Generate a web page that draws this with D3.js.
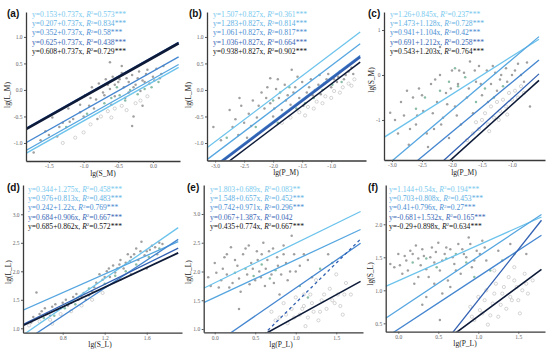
<!DOCTYPE html>
<html>
<head>
<meta charset="utf-8">
<script src="https://cdn.jsdelivr.net/npm/d3@7"></script>
<style>
  body { margin: 0; background: #fff; }
  svg { display: block; }
</style>
</head>
<body>
<svg id="chart" width="550" height="351"></svg>
<script>
// regression lines: intercepts, slopes, R2 labels (rows 1..5)
var aInt = [0.153, 0.207, 0.352, 0.625, 0.608];
var aSlope = [0.737, 0.737, 0.737, 0.737, 0.737];
var aR2 = ["0.573***", "0.834***", "0.58***", "0.438***", "0.729***"];

var bInt = [1.507, 1.283, 1.061, 1.036, 0.938];
var bSlope = [0.827, 0.827, 0.827, 0.827, 0.827];
var bR2 = ["0.361***", "0.814***", "0.817***", "0.664***", "0.902***"];

var cInt = [1.26, 1.473, 0.941, 0.691, 0.543];
var cSlope = [0.845, 1.128, 1.104, 1.212, 1.203];
var cR2 = ["0.237***", "0.728***", "0.42***", "0.258***", "0.764***"];

var dInt = [0.344, 0.976, 0.242, 0.684, 0.685];
var dSlope = [1.275, 0.813, 1.22, 0.906, 0.862];
var dR2 = ["0.458***", "0.483***", "0.769***", "0.667***", "0.572***"];

var eInt = [1.803, 1.548, 0.742, 0.067, 0.435];
var eSlope = [0.689, 0.657, 0.971, 1.387, 0.774];
var eR2 = ["0.083**", "0.452***", "0.296***", "0.042", "0.667***"];

var fInt = [1.144, 0.703, 0.41, -0.681, -0.29];
var fSlope = [0.54, 0.808, 0.796, 1.532, 0.898];
var fR2 = ["0.194***", "0.453***", "0.27***", "0.165***", "0.634***"];

// scatter points: filled grey, greenish, open circles
var aGray = [[-1.72,-1.18],[-1.62,-0.95],[-1.55,-0.78],[-1.45,-0.52],[-1.38,-0.88],[-1.3,-0.62],[-1.22,-0.35],[-1.15,-0.55],[-1.1,-0.2],[-1.05,-0.42],[-0.98,-0.1],[-0.92,-0.3],[-0.88,0.05],[-0.82,-0.18],[-0.78,0.12],[-0.72,-0.05],[-0.68,0.2],[-0.62,0.02],[-0.58,0.25],[-0.55,-0.12],[-0.5,0.15],[-0.45,0.32],[-0.42,0.05],[-0.38,0.22],[-0.35,-0.05],[-0.3,0.28],[-0.25,0.1],[-0.2,0.35],[-0.15,0.18],[-0.1,0.3],[-0.05,0.12],[0.0,0.25],[0.05,0.4],[0.12,0.3],[-0.62,0.52],[-0.3,-0.68],[-0.28,-0.5],
  [-1.5,-0.85],[-1.35,-0.7],[-1.2,-0.6],[-1.0,-0.5],[-0.85,-0.35],[-0.8,-0.55],[-0.7,-0.1],[-0.65,0.1],[-0.55,0.1],[-0.48,0.2],[-0.4,-0.15],[-0.35,0.15],[-0.28,0.05],[-0.22,0.22],[-0.18,-0.02],[-0.12,0.15],[-0.08,0.38],[0.02,0.18],[0.1,0.22],[0.15,0.45],[-0.6,-0.28],[-0.9,-0.15],[-1.05,-0.28],[-0.15,-0.3],[-0.45,0.45]];
var aGreen = [[-1.25,-0.7],[-0.95,-0.45],[-0.7,-0.25],[-0.6,-0.15],[-0.48,-0.1],[-0.4,-0.2],[-0.33,0.0],[-0.22,-0.08],[-0.12,0.02],[-0.02,0.05],[0.08,0.15],[-0.52,0.05]];
var aOpen = [[-1.12,-0.9],[-0.9,-0.65],[-0.75,-0.5],[-0.65,-0.4],[-0.55,-0.35],[-0.45,-0.3],[-0.38,-0.38],[-0.18,-0.2],[-0.08,-0.12],[-1.0,-0.8],[-0.25,-0.25],[-0.6,-0.52],[-1.3,-1.0]];

var bGray = [[-3.03,-0.7],[-2.75,-0.38],[-2.65,-0.55],[-2.55,-0.3],[-2.5,-0.62],[-2.42,-0.45],[-2.35,-0.2],[-2.28,-0.52],[-2.2,-0.05],[-2.15,-0.35],[-2.1,0.05],[-2.05,-0.25],[-2.0,-0.5],[-1.95,0.02],[-1.9,-0.15],[-1.85,-0.38],[-1.8,0.1],[-1.75,-0.1],[-1.7,-0.28],[-1.62,0.05],[-1.55,-0.15],[-1.5,0.15],[-1.42,-0.05],[-1.35,0.2],[-1.28,0.0],[-1.2,0.28],[-1.12,0.12],[-1.05,0.3],[-0.95,0.2],[-0.85,0.35],[-0.75,0.28],[-0.65,0.42],[-2.6,-0.85],[-2.45,-0.9],
  [-2.9,-0.95],[-2.7,-0.7],[-2.58,-0.15],[-2.38,-0.68],[-2.25,-0.3],[-2.12,-0.15],[-1.98,-0.35],[-1.92,0.2],[-1.78,-0.2],[-1.65,-0.05],[-1.58,0.25],[-1.48,-0.3],[-1.38,0.05],[-1.32,-0.1],[-1.22,0.1],[-1.18,-0.08],[-1.08,0.2],[-1.0,0.05],[-0.9,0.15],[-0.88,0.25],[-0.78,0.2],[-0.7,0.35],[-0.62,0.3],[-2.05,0.22],[-1.68,0.38]];
var bGreen = [[-2.8,-0.9],[-2.3,-0.7],[-2.0,-0.2],[-1.88,-0.05],[-1.72,0.05],[-1.6,-0.35],[-1.45,-0.25],[-1.3,-0.15],[-1.15,0.0],[-0.98,0.1],[-0.82,0.15],[-1.92,-0.62]];
var bOpen = [[-1.85,-0.62],[-1.7,-0.52],[-1.55,-0.42],[-1.4,-0.32],[-1.25,-0.22],[-1.1,-0.12],[-0.95,-0.02],[-0.8,0.05],[-0.7,0.12],[-0.6,0.2],[-1.45,-0.48],[-1.0,-0.15],[-1.3,-0.35],[-1.15,-0.25],[-0.85,-0.05],[-0.65,0.08]];

var cGray = [[-3.03,-0.84],[-2.9,-1.3],[-2.8,-0.9],[-2.72,-1.55],[-2.65,-0.5],[-2.6,-1.1],[-2.55,-0.3],[-2.48,-0.8],[-2.4,-1.6],[-2.35,-0.2],[-2.3,-1.2],[-2.25,-0.6],[-2.2,0.0],[-2.15,-0.95],[-2.1,-0.4],[-2.05,-1.4],[-2.0,0.1],[-1.95,-0.7],[-1.9,-0.2],[-1.85,-1.1],[-1.8,0.05],[-1.75,-0.5],[-1.7,0.3],[-1.65,-0.85],[-1.6,-0.15],[-1.55,0.2],[-1.5,-0.45],[-1.42,0.1],[-1.35,-0.2],[-1.28,0.05],[-1.2,-0.1],[-1.1,0.15],[-1.0,0.0],[-0.9,0.25],[-0.75,0.28],[-0.7,-0.7],[-2.2,0.62],
  [-2.95,-1.0],[-2.85,-0.6],[-2.7,-1.2],[-2.58,-0.9],[-2.5,-0.45],[-2.42,-1.3],[-2.32,-0.85],[-2.28,-0.1],[-2.18,-1.1],[-2.08,-0.65],[-2.02,-0.3],[-1.92,-0.9],[-1.88,0.1],[-1.72,-0.3],[-1.62,0.1],[-1.52,-0.2],[-1.4,-0.6],[-1.32,0.2],[-1.25,-0.35],[-1.18,0.0],[-1.08,-0.15],[-0.95,0.1],[-0.85,0.0],[-0.8,-0.15],[-2.75,-0.35]];
var cGreen = [[-2.45,-0.5],[-2.2,-0.35],[-2.05,-0.15],[-1.9,-0.25],[-1.78,-0.05],[-1.6,-0.6],[-1.45,-0.3],[-1.3,-0.5],[-1.15,-0.25],[-2.6,-0.75],[-1.95,0.15]];
var cOpen = [[-1.75,-1.45],[-1.65,-1.3],[-1.55,-1.2],[-1.5,-1.0],[-1.45,-0.85],[-1.4,-1.1],[-1.35,-0.7],[-1.3,-0.95],[-1.25,-0.6],[-1.2,-0.8],[-1.15,-0.55],[-1.1,-0.7],[-1.05,-0.4],[-1.0,-0.55],[-0.95,-0.35],[-0.9,-0.5],[-0.85,-0.25],[-0.8,-0.4],[-1.6,-1.05],[-1.38,-1.25],[-1.22,-1.0],[-1.08,-0.88]];

var dGray = [[0.52,1.2],[0.55,1.63],[0.6,1.3],[0.65,1.25],[0.7,1.38],[0.75,1.32],[0.8,1.45],[0.85,1.4],[0.9,1.55],[0.95,1.5],[1.0,1.62],[1.05,1.58],[1.1,1.72],[1.15,1.95],[1.18,1.85],[1.22,2.0],[1.25,1.9],[1.28,2.1],[1.32,2.05],[1.35,2.2],[1.4,2.15],[1.42,2.3],[1.45,2.25],[1.5,2.4],[1.52,2.2],[1.55,2.52],[1.6,2.35],[1.65,2.45],[1.7,2.3],[1.75,2.48],[1.45,1.95],[1.35,1.85],[1.6,2.05],
  [0.5,1.1],[0.58,1.25],[0.63,1.35],[0.68,1.22],[0.73,1.42],[0.78,1.35],[0.83,1.5],[0.88,1.45],[0.93,1.6],[0.98,1.55],[1.02,1.5],[1.08,1.65],[1.12,1.8],[1.2,1.9],[1.24,2.05],[1.3,1.98],[1.34,2.12],[1.38,2.05],[1.44,2.18],[1.48,2.3],[1.54,2.35],[1.58,2.28],[1.63,2.38],[1.68,2.42],[1.72,2.5]];
var dGreen = [[0.62,1.18],[0.72,1.22],[0.82,1.35],[0.92,1.42],[1.05,1.7],[1.2,1.78],[1.3,1.92],[1.4,2.0],[1.5,2.12],[1.62,2.25],[1.72,2.4]];
var dOpen = [[0.48,1.05],[0.58,1.12],[0.68,1.15],[0.78,1.25],[0.88,1.3],[0.98,1.4],[1.08,1.5],[1.18,1.62],[0.7,1.08]];

var eGray = [[-0.08,1.9],[0.0,2.15],[0.05,1.72],[0.1,2.05],[0.15,1.95],[0.2,2.42],[0.22,1.8],[0.28,2.1],[0.32,1.65],[0.35,2.3],[0.4,1.95],[0.42,2.45],[0.45,2.15],[0.5,1.85],[0.52,2.35],[0.55,2.0],[0.6,2.5],[0.62,1.75],[0.65,2.2],[0.7,1.95],[0.72,2.4],[0.78,2.1],[0.8,1.6],[0.85,2.3],[0.9,1.85],[0.95,2.62],[1.0,2.0],[0.3,1.35],[1.1,2.3],[1.2,1.9],[1.4,2.3],
  [-0.05,1.75],[0.02,1.98],[0.08,1.85],[0.12,2.25],[0.18,1.72],[0.25,2.2],[0.3,1.88],[0.38,2.4],[0.43,1.78],[0.47,2.05],[0.53,2.2],[0.57,1.9],[0.63,2.05],[0.67,2.35],[0.73,1.8],[0.77,2.25],[0.82,1.95],[0.88,2.15],[0.93,2.0],[0.98,2.3],[1.05,2.1],[1.15,2.2],[0.58,2.3],[0.15,2.3],[0.85,2.45]];
var eGreen = [[0.25,1.98],[0.38,2.05],[0.48,1.92],[0.58,2.12],[0.68,1.88],[0.75,2.02],[1.05,1.75],[1.15,1.55],[1.3,2.05],[1.45,2.15]];
var eOpen = [[0.7,1.3],[0.8,1.2],[0.85,1.45],[0.9,1.1],[0.95,1.35],[1.0,1.55],[1.05,1.25],[1.1,1.4],[1.12,1.05],[1.18,1.6],[1.22,1.3],[1.28,1.15],[1.32,1.5],[1.38,1.35],[1.42,1.7],[1.48,1.45],[1.52,1.6],[1.58,1.25],[1.62,1.8],[1.68,1.6],[1.25,1.85],[1.5,1.95],
  [0.75,1.15],[0.88,1.25],[0.98,1.2],[1.08,1.35],[1.15,1.2],[1.2,1.45],[1.3,1.3],[1.35,1.6],[1.45,1.5],[1.55,1.4],[1.6,1.6],[1.1,1.6]];

var fGray = [[-0.05,1.35],[0.0,1.55],[0.05,1.25],[0.1,1.45],[0.15,1.6],[0.2,1.1],[0.22,1.68],[0.28,1.38],[0.32,1.52],[0.38,1.2],[0.42,1.65],[0.45,1.42],[0.5,1.72],[0.52,1.3],[0.58,1.55],[0.62,1.15],[0.65,1.62],[0.7,1.4],[0.75,1.7],[0.78,1.25],[0.82,1.55],[0.88,1.8],[0.92,1.35],[0.98,1.6],[1.05,1.75],[0.3,0.78],[0.52,0.55],[1.1,1.45],[1.25,1.6],[1.4,1.7],[1.6,1.55],
  [-0.1,1.4],[0.02,1.38],[0.08,1.52],[0.12,1.3],[0.18,1.55],[0.25,1.48],[0.3,1.62],[0.35,1.32],[0.4,1.5],[0.47,1.58],[0.55,1.45],[0.6,1.65],[0.68,1.5],[0.72,1.3],[0.8,1.62],[0.85,1.5],[0.9,1.7],[0.95,1.45],[1.02,1.55],[1.08,1.65],[0.25,1.2],[0.45,1.1],[0.55,0.95],[0.35,0.9],[0.65,1.05]];
var fGreen = [[0.18,1.42],[0.35,1.48],[0.48,1.35],[0.6,1.48],[0.72,1.55],[0.85,1.42],[0.95,1.2],[1.15,1.3],[1.3,1.45],[1.45,1.55]];
var fOpen = [[0.9,0.75],[0.95,0.55],[1.0,0.9],[1.05,0.65],[1.1,1.0],[1.12,0.48],[1.18,0.8],[1.22,1.1],[1.25,0.6],[1.3,0.95],[1.35,0.72],[1.38,1.2],[1.42,0.85],[1.48,1.05],[1.52,0.65],[1.58,1.25],[1.62,0.95],[1.68,1.15],[1.2,1.3],[1.45,1.35],
  [0.92,0.6],[1.02,0.7],[1.08,0.85],[1.15,0.62],[1.2,0.95],[1.28,0.78],[1.32,1.05],[1.4,0.9],[1.45,1.15],[1.5,0.85],[1.55,1.0],[1.6,1.1]];

// tick values
var aXTicks = [-1.5, -1.0, -0.5, 0.0], aYTicks = [-1.0, -0.5, 0.0, 0.5, 1.0];
var bXTicks = [-3.0, -2.5, -2.0, -1.5, -1.0], bYTicks = [-1.0, -0.5, 0.0, 0.5, 1.0];
var cXTicks = [-3.0, -2.5, -2.0, -1.5, -1.0], cYTicks = [-1, 0, 1];
var dXTicks = [0.8, 1.2, 1.6], dYTicks = [1.0, 1.5, 2.0, 2.5, 3.0];
var eXTicks = [0.0, 0.5, 1.0, 1.5], eYTicks = [1.0, 1.5, 2.0, 2.5, 3.0];
var fXTicks = [0.0, 0.5, 1.0, 1.5], fYTicks = [0.5, 1.0, 1.5, 2.0];

var lineColors = ["#6cc3ec", "#56a6e0", "#4486d0", "#3261b2", "#0d1a38"];
var textColors = ["#78c9ee", "#62b0e3", "#4a8dd2", "#3967b5", "#111111"];

var svg = d3.select("#chart");

var f1 = function (v) { return d3.format(".1f")(v).replace("\u2212", "-"); };
var f0 = function (v) { return d3.format("d")(v).replace("\u2212", "-"); };

var panels = [
  { id: "a", label: "(a)", lx: 7, ly: 16.5, box: [26, 180, 12, 161], xd: [-1.83, 0.39], yd: [-1.34, 1.47],
    lineX: [-1.83, 0.37], ints: aInt, slopes: aSlope, r2: aR2, gray: aGray, green: aGreen, open: aOpen,
    xt: aXTicks, yt: aYTicks, yf: f1, xf: f1, xl: "lg(S_M)", yl: "lg(L_M)", xlx: 103, ylx: 8, yly: 95,
    tx: 32, ty: 17, widths: [1.3, 1.3, 1.3, 1.6, 2.6], dash: [] },
  { id: "b", label: "(b)", lx: 189, ly: 16.5, box: [207, 366, 12, 160.5], xd: [-3.14, -0.4], yd: [-1.33, 1.47],
    lineX: [-3.14, -0.5], ints: bInt, slopes: bSlope, r2: bR2, gray: bGray, green: bGreen, open: bOpen,
    xt: bXTicks, yt: bYTicks, yf: f1, xf: f1, xl: "lg(P_M)", yl: "lg(L_M)", xlx: 286, ylx: 189, yly: 95,
    tx: 213, ty: 17, widths: [1.3, 1.3, 1.3, 2.4, 1.5], dash: [] },
  { id: "c", label: "(c)", lx: 368, ly: 16.5, box: [384, 545, 12, 160], xd: [-3.133, -0.45], yd: [-1.89, 1.4],
    lineX: [-3.133, -0.55], ints: cInt, slopes: cSlope, r2: cR2, gray: cGray, green: cGreen, open: cOpen,
    xt: cXTicks, yt: cYTicks, yf: f0, xf: f1, xl: "lg(P_M)", yl: "lg(S_M)", xlx: 464, ylx: 372, yly: 80,
    tx: 390, ty: 17, widths: [1.3, 1.3, 1.3, 1.3, 1.6], dash: [] },
  { id: "d", label: "(d)", lx: 7, ly: 191, box: [23, 182, 185, 332.7], xd: [0.422, 1.936], yd: [0.923, 3.514],
    lineX: [0.422, 1.9], ints: dInt, slopes: dSlope, r2: dR2, gray: dGray, green: dGreen, open: dOpen,
    xt: dXTicks, yt: dYTicks, yf: f1, xf: f1, xl: "lg(S_L)", yl: "lg(L_L)", xlx: 100, ylx: 9, yly: 272,
    tx: 28, ty: 192, widths: [1.3, 1.3, 1.3, 1.3, 1.8], dash: [] },
  { id: "e", label: "(e)", lx: 187, ly: 191, box: [203.7, 363, 185, 332.3], xd: [-0.136, 1.83], yd: [0.943, 3.504],
    lineX: [-0.136, 1.8], ints: eInt, slopes: eSlope, r2: eR2, gray: eGray, green: eGreen, open: eOpen,
    xt: eXTicks, yt: eYTicks, yf: f1, xf: f1, xl: "lg(P_L)", yl: "lg(L_L)", xlx: 281, ylx: 189, yly: 272,
    tx: 210, ty: 192, widths: [1.3, 1.3, 1.3, 1.3, 1.6], dash: [3] },
  { id: "f", label: "(f)", lx: 368, ly: 191, box: [385.7, 545, 185, 331.7], xd: [-0.1575, 1.834], yd: [0.373, 2.595],
    lineX: [-0.1575, 1.79], ints: fInt, slopes: fSlope, r2: fR2, gray: fGray, green: fGreen, open: fOpen,
    xt: fXTicks, yt: fYTicks, yf: f1, xf: f1, xl: "lg(P_L)", yl: "lg(S_L)", xlx: 465, ylx: 371, yly: 274,
    tx: 389, ty: 192, widths: [1.3, 1.3, 1.3, 1.3, 1.6], dash: [] }
];

panels.forEach(drawPanel);

function drawPanel(p) {
  var x = d3.scaleLinear().domain(p.xd).range([p.box[0], p.box[1]]);
  var y = d3.scaleLinear().domain(p.yd).range([p.box[3], p.box[2]]);
  var g = svg.append("g");

  g.append("clipPath").attr("id", "clip-" + p.id)
    .append("rect")
    .attr("x", p.box[0]).attr("y", p.box[2])
    .attr("width", p.box[1] - p.box[0]).attr("height", p.box[3] - p.box[2]);

  var plot = g.append("g").attr("clip-path", "url(#clip-" + p.id + ")");

  // points
  plot.selectAll(".open").data(p.open).enter().append("circle")
    .attr("cx", function (d) { return x(d[0]); })
    .attr("cy", function (d) { return y(d[1]); })
    .attr("r", 1.6)
    .attr("fill", "none")
    .attr("stroke", "#b8b8b8")
    .attr("stroke-width", 0.6);
  plot.selectAll(".gray").data(p.gray).enter().append("circle")
    .attr("cx", function (d) { return x(d[0]); })
    .attr("cy", function (d) { return y(d[1]); })
    .attr("r", 1.25)
    .attr("fill", "#a0a0a0");
  plot.selectAll(".green").data(p.green).enter().append("circle")
    .attr("cx", function (d) { return x(d[0]); })
    .attr("cy", function (d) { return y(d[1]); })
    .attr("r", 1.25)
    .attr("fill", "#8abda6");

  // regression lines
  var line = d3.line()
    .x(function (d) { return x(d[0]); })
    .y(function (d) { return y(d[1]); });
  p.ints.forEach(function (b0, i) {
    var pts = p.lineX.map(function (xv) { return [xv, b0 + p.slopes[i] * xv]; });
    plot.append("path")
      .attr("d", line(pts))
      .attr("fill", "none")
      .attr("stroke", lineColors[i])
      .attr("stroke-width", p.widths[i])
      .attr("stroke-dasharray", (i === 3 && p.dash.length) ? p.dash.join(",") : null);
  });

  // axes
  var xAxis = g.append("g")
    .attr("transform", "translate(0," + p.box[3] + ")")
    .call(d3.axisBottom(x).tickValues(p.xt).tickFormat(p.xf).tickSize(2).tickPadding(1.5).tickSizeOuter(0));
  var yAxis = g.append("g")
    .attr("transform", "translate(" + p.box[0] + ",0)")
    .call(d3.axisLeft(y).tickValues(p.yt).tickFormat(p.yf).tickSize(2).tickPadding(1.5).tickSizeOuter(0));
  [xAxis, yAxis].forEach(function (ax) {
    ax.select(".domain").attr("stroke", "#3a3a3a").attr("stroke-width", 1.3);
    ax.selectAll(".tick line").attr("stroke", "#555");
    ax.selectAll(".tick text")
      .attr("fill", "#666")
      .style("font-family", "Liberation Serif")
      .style("font-size", "5.5px");
  });

  // axis titles
  g.append("text")
    .attr("x", p.xlx).attr("y", p.box[3] + 14.5)
    .attr("text-anchor", "middle")
    .style("font-family", "Liberation Serif")
    .style("font-size", "7.5px")
    .attr("fill", "#222")
    .text(p.xl);
  g.append("text")
    .attr("transform", "translate(" + p.ylx + "," + p.yly + ") rotate(-90)")
    .attr("text-anchor", "middle")
    .attr("dominant-baseline", "middle")
    .style("font-family", "Liberation Serif")
    .style("font-size", "7.5px")
    .attr("fill", "#222")
    .text(p.yl);

  // panel label
  g.append("text")
    .attr("x", p.lx).attr("y", p.ly)
    .style("font-family", "Liberation Sans")
    .style("font-weight", "bold")
    .style("font-size", "10px")
    .attr("fill", "#111")
    .text(p.label);

  // equations
  p.ints.forEach(function (b0, i) {
    var t = g.append("text")
      .attr("x", p.tx).attr("y", p.ty + i * 9.2)
      .style("font-family", "Liberation Serif")
      .style("font-size", "7.6px")
      .attr("fill", textColors[i]);
    t.append("tspan").text("y=" + b0 + "+" + p.slopes[i] + "x, ");
    t.append("tspan").style("font-style", "italic").text("R");
    t.append("tspan").attr("dy", -2.6).style("font-size", "5px").text("2");
    t.append("tspan").attr("dy", 2.6).text("=" + p.r2[i]);
  });
}
</script>
</body>
</html>
